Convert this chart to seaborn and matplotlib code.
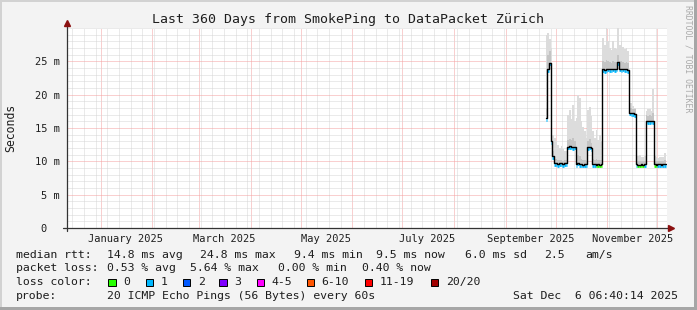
import numpy as np
import pandas as pd
import matplotlib
matplotlib.use("Agg")
import matplotlib.pyplot as plt
import matplotlib.dates as mdates
import matplotlib.transforms as mtransforms
from matplotlib.patches import Rectangle
from matplotlib.ticker import MultipleLocator
import seaborn as sns

nan = np.nan

# ---------------- data ----------------
TITLE = "Last 360 Days from SmokePing to DataPacket Zürich"
Y_LABEL = "Seconds"
WATERMARK = "RRDTOOL / TOBI OETIKER"

X_START = "2024-12-11 17:00"
X_END = "2025-12-06 17:00"

X_LABEL_DATES = ["2025-01-16", "2025-03-16", "2025-05-16", "2025-07-16",
                 "2025-09-16", "2025-11-16"]
X_LABELS = ["January 2025", "March 2025", "May 2025", "July 2025",
            "September 2025", "November 2025"]
Y_TICKS_MS = [0, 5, 10, 15, 20, 25]
Y_TICK_LABELS = ["0  ", "5 m", "10 m", "15 m", "20 m", "25 m"]
Y_MAX_MS = 30

FIRST_DAY = "2025-09-24"   # one value per day from here on

median_ms = [nan, 16.5, 23.8, 24.8, 13.0, 10.8, 9.7, 9.7, 9.6, 9.7,
             9.7, 9.6, 9.7, 9.7, 12.2, 12.3, 12.2, 12.1, 12.2, 9.6,
             9.8, 9.6, 9.6, 9.5, 9.6, 9.6, 12.1, 12.2, 12.0, 9.6,
             9.6, 9.5, 9.6, 9.5, 9.6, 23.8, 23.7, 23.8, 23.9, 23.8,
             23.8, 23.9, 23.8, 23.9, 24.9, 23.9, 23.8, 23.9, 23.8, 23.8,
             23.7, 17.3, 17.2, 17.2, 17.1, 9.6, 9.5, 9.5, 9.6, 9.5,
             9.6, 16.1, 16.0, 16.0, 16.1, 16.0, 9.6, 9.5, 9.6, 9.6,
             9.5, 9.6, 9.6, 9.6]

smoke_max_ms = [nan, 29.0, 29.2, 28.3, 27.0, 14.0, 13.5, 13.0, 12.4, 12.0,
                12.3, 11.8, 11.6, 11.5, 17.0, 17.7, 16.4, 18.5, 16.0, 16.5,
                20.0, 19.5, 16.0, 15.2, 14.5, 13.5, 17.7, 18.2, 16.8, 14.5,
                13.5, 14.7, 13.2, 14.0, 13.0, 28.5, 27.5, 30.0, 28.0, 27.0,
                26.7, 28.0, 27.0, 26.9, 30.0, 27.5, 28.0, 27.2, 26.8, 27.0,
                26.5, 18.7, 18.7, 18.3, 18.0, 10.8, 10.8, 10.9, 10.7, 10.6,
                10.8, 17.5, 17.9, 17.8, 17.5, 20.8, 10.8, 10.6, 10.5, 10.7,
                10.6, 10.6, 11.3, 11.3]

smoke_mid_ms = [nan, 18.0, 26.0, 26.5, 20.0, 11.5, 10.4, 10.3, 10.2, 10.2,
                10.2, 10.1, 10.2, 10.2, 13.2, 13.4, 13.2, 13.5, 13.0, 10.5,
                11.0, 10.8, 10.3, 10.2, 10.2, 10.1, 13.0, 13.3, 12.8, 10.3,
                10.2, 10.3, 10.2, 10.2, 10.2, 25.0, 24.9, 25.2, 25.0, 24.9,
                24.8, 25.0, 24.9, 24.9, 26.0, 25.1, 25.0, 24.9, 24.8, 24.9,
                24.7, 18.0, 18.0, 17.9, 17.8, 10.1, 10.0, 10.0, 10.1, 10.0,
                10.1, 16.9, 16.8, 16.9, 16.8, 17.2, 10.1, 10.0, 10.1, 10.1,
                10.0, 10.1, 10.2, 10.2]

loss_count = [0, 1, 1, 1, 1, 1, 1, 1, 1, 1,
              1, 1, 1, 1, 1, 1, 1, 1, 1, 1,
              1, 1, 1, 1, 1, 1, 1, 1, 1, 1,
              1, 0, 0, 0, 0, 1, 1, 1, 1, 1,
              1, 1, 1, 1, 1, 1, 1, 1, 1, 1,
              1, 1, 1, 1, 1, 1, 0, 0, 0, 0,
              1, 1, 1, 1, 1, 1, 0, 0, 1, 1,
              1, 1, 1, 1]

LOSS_LABELS = ["0", "1", "2", "3", "4-5", "6-10", "11-19", "20/20"]
LOSS_COLORS = ["#26ff00", "#00b8ff", "#0059ff", "#7e00ff", "#ff00ff",
               "#ff5500", "#ff0000", "#a10000"]

RTT_LINE = [("median rtt:", 16), ("14.8 ms avg", 107.3), ("24.8 ms max", 200),
            ("9.4 ms min", 294), ("9.5 ms now", 376), ("6.0 ms sd", 465),
            ("2.5", 544), ("am/s", 585)]
LOSS_LINE = [("packet loss:", 16), ("0.53 % avg", 107.3), ("5.64 % max", 190),
             ("0.00 % min", 278), ("0.40 % now", 361.7)]
PROBE_LINE = [("probe:", 16), ("20 ICMP Echo Pings (56 Bytes) every 60s", 107.3),
              ("Sat Dec  6 06:40:14 2025", 513.3)]

# ---------------- figure ----------------
W, H = 697, 310
MONO = ["DejaVu Sans Mono"]
sns.set_style("white")
plt.rcParams["font.family"] = MONO
plt.rcParams["text.color"] = "#1e1e1e"

fig = plt.figure(figsize=(W / 100, H / 100), dpi=100, facecolor="#f3f3f3")
ax = fig.add_axes([67 / W, 82 / H, 600 / W, 200 / H])
ax.set_facecolor("white")

days = pd.date_range(FIRST_DAY, periods=len(median_ms), freq="D")
t = mdates.date2num(days.to_pydatetime())
med = np.array(median_ms, dtype=float)
smax = np.array(smoke_max_ms, dtype=float)
smid = np.array(smoke_mid_ms, dtype=float)

# smoke
ax.fill_between(t, med, smax, step="post", color="#dcdcdc", lw=0, zorder=2)
ax.fill_between(t, med, smid, step="post", color="#c4c4c4", lw=0, zorder=3)

# loss coloured median bars (drawn just under the median line)
off = mtransforms.offset_copy(ax.transData, fig=fig, x=0, y=-1.6, units="dots")
for i in range(len(t) - 1):
    if np.isnan(med[i]):
        continue
    ax.hlines(med[i], t[i], t[i + 1], colors=LOSS_COLORS[loss_count[i]],
              lw=2.0, transform=off, zorder=4)

# median line
df = pd.DataFrame({"t": t, "median": med})
sns.lineplot(data=df, x="t", y="median", ax=ax, color="black", lw=1.0,
             drawstyle="steps-post", estimator=None, zorder=5, legend=False)

ax.set_xlim(mdates.date2num(pd.Timestamp(X_START)), mdates.date2num(pd.Timestamp(X_END)))
ax.set_ylim(0, Y_MAX_MS)
ax.set_xlabel("")
ax.set_ylabel("")

# grid
ax.set_axisbelow(True)
ax.xaxis.set_major_locator(mdates.MonthLocator())
ax.xaxis.set_minor_locator(mdates.WeekdayLocator(byweekday=mdates.SU))
ax.yaxis.set_major_locator(MultipleLocator(5))
ax.yaxis.set_minor_locator(MultipleLocator(1))
dot = (0, (1, 1))
ax.grid(which="minor", color="#d6d6d6", lw=0.72, linestyle=dot)
ax.grid(which="major", color="#f4a0a0", lw=0.72, linestyle=dot)
for s in ax.spines.values():
    s.set_visible(False)

ax.tick_params(axis="x", which="major", length=2.2, width=0.7, color="#f08080",
               direction="out", labelbottom=False)
ax.tick_params(axis="x", which="minor", length=1.6, width=0.7, color="#999999",
               direction="out")
ax.tick_params(axis="y", which="minor", length=1.6, width=0.7, color="#777777",
               direction="out")
ax.set_yticks(Y_TICKS_MS)
ax.set_yticklabels(Y_TICK_LABELS)
ax.tick_params(axis="y", which="major", length=2.2, width=0.7, color="#555555",
               direction="out", pad=3.0, labelsize=7.5, labelcolor="#1e1e1e")

# x labels centred in mid month
bt = mtransforms.blended_transform_factory(ax.transData, ax.transAxes)
for d, lab in zip(X_LABEL_DATES, X_LABELS):
    ax.text(mdates.date2num(pd.Timestamp(d)), -10.5 / 200, lab, transform=bt,
            ha="center", va="center", fontsize=7.5, color="#1e1e1e")

# axis lines with arrows
ax.plot([0, 0], [-3 / 200, 1 + 5 / 200], transform=ax.transAxes, color="#333333",
        lw=0.9, clip_on=False, zorder=6)
ax.plot([-4 / 600, 1 + 4 / 600], [0, 0], transform=ax.transAxes, color="#333333",
        lw=0.9, clip_on=False, zorder=6)
ax.plot([0], [1 + 5 / 200], marker="^", ms=4.2, color="#8b1010",
        transform=ax.transAxes, clip_on=False, zorder=7)
ax.plot([1 + 4 / 600], [0], marker=">", ms=4.2, color="#8b1010",
        transform=ax.transAxes, clip_on=False, zorder=7)

# titles
fig.text(347.5 / W, 1 - 19 / H, TITLE, ha="center", va="center", fontsize=9.5)
fig.text(11 / W, 1 - 128 / H, Y_LABEL, rotation=90, ha="center", va="center",
         fontsize=8.3)
fig.text(688 / W, 1 - 59 / H, WATERMARK, rotation=270, ha="center", va="center",
         fontsize=5.9, color="#aaaaaa")

# legend rows
LEG_FS = 8.25
for txt, x in RTT_LINE:
    fig.text(x / W, 1 - 254.7 / H, txt, ha="left", va="center", fontsize=LEG_FS)
for txt, x in LOSS_LINE:
    fig.text(x / W, 1 - 268.3 / H, txt, ha="left", va="center", fontsize=LEG_FS)
fig.text(16 / W, 1 - 282.3 / H, "loss color:", ha="left", va="center", fontsize=LEG_FS)
box_x = [108.3, 145.7, 182.7, 219.3, 256.7, 306.7, 365.0, 430.7]
for bx, col, lab in zip(box_x, LOSS_COLORS, LOSS_LABELS):
    fig.patches.append(Rectangle((bx / W, 1 - 286 / H), 7.3 / W, 7.3 / H,
                                 transform=fig.transFigure, facecolor=col,
                                 edgecolor="black", lw=0.7))
    fig.text((bx + 15) / W, 1 - 282.3 / H, lab, ha="left", va="center", fontsize=LEG_FS)
for txt, x in PROBE_LINE:
    fig.text(x / W, 1 - 296.3 / H, txt, ha="left", va="center", fontsize=LEG_FS)

# 3d frame
fig.patches.append(Rectangle((0, 1 - 2 / H), 1, 2 / H, transform=fig.transFigure,
                             facecolor="#d2d2d2", lw=0))
fig.patches.append(Rectangle((0, 0), 2 / W, 1, transform=fig.transFigure,
                             facecolor="#d2d2d2", lw=0))
fig.patches.append(Rectangle((1 - 3 / W, 0), 3 / W, 1, transform=fig.transFigure,
                             facecolor="#a6a6a6", lw=0))
fig.patches.append(Rectangle((0, 0), 1, 3 / H, transform=fig.transFigure,
                             facecolor="#a6a6a6", lw=0))

fig.savefig("out.png", dpi=100, facecolor=fig.get_facecolor())
